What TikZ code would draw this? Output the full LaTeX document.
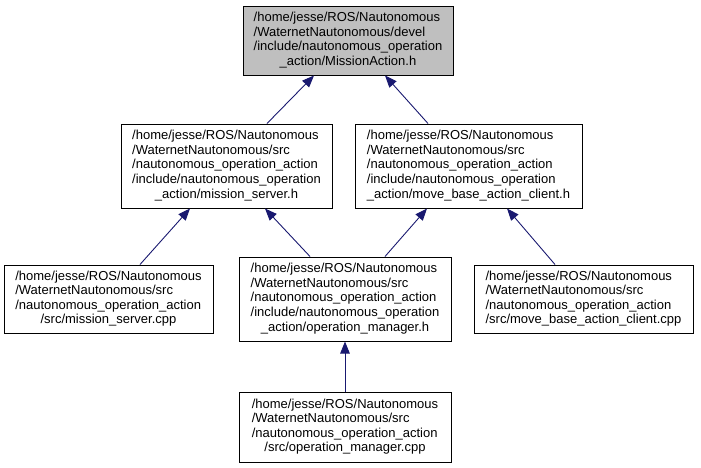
\documentclass[tikz,border=0pt]{standalone}
\usepackage{fontspec}
\setmainfont{Liberation Sans}
\usepackage{tikz}
\usetikzlibrary{arrows.meta,positioning}
\definecolor{edgeblue}{RGB}{25,25,112}
\definecolor{rootgrey}{RGB}{191,191,191}
\tikzstyle{file}=[draw=black, fill=white, shape=rectangle, line width=1pt,
        inner sep=0pt, font=\fontsize{13}{14.6}\selectfont]
\tikzstyle{root file}=[file, fill=rootgrey]
\tikzstyle{include edge}=[-{Triangle[length=12pt, width=9.5pt]}, draw=edgeblue,
        line width=0.9pt]
\newcommand{\lastline}[1]{\multicolumn{1}{@{}c@{}}{#1}}

\begin{document}
\begin{tikzpicture}[x=1pt, y=-1pt]
            \fill [white] (0, 0) rectangle (701, 467);
            \useasboundingbox (0, 0) rectangle (701, 467);

            \node [style=root file, minimum width=210pt, minimum height=69pt] (0) at (348, 40.5)
                {\begin{tabular}{@{}l@{}}/home/jesse/ROS/Nautonomous\\/WaternetNautonomous/devel\\/include/nautonomous\_operation\\\lastline{\_action/MissionAction.h}\end{tabular}};
            \node [style=file, minimum width=211pt, minimum height=84pt] (1) at (226.5, 166)
                {\begin{tabular}{@{}l@{}}/home/jesse/ROS/Nautonomous\\/WaternetNautonomous/src\\/nautonomous\_operation\_action\\/include/nautonomous\_operation\\\lastline{\_action/mission\_server.h}\end{tabular}};
            \node [style=file, minimum width=227pt, minimum height=84pt] (2) at (468.5, 166)
                {\begin{tabular}{@{}l@{}}/home/jesse/ROS/Nautonomous\\/WaternetNautonomous/src\\/nautonomous\_operation\_action\\/include/nautonomous\_operation\\\lastline{\_action/move\_base\_action\_client.h}\end{tabular}};
            \node [style=file, minimum width=209pt, minimum height=68pt] (3) at (108.5, 299)
                {\begin{tabular}{@{}l@{}}/home/jesse/ROS/Nautonomous\\/WaternetNautonomous/src\\/nautonomous\_operation\_action\\\lastline{/src/mission\_server.cpp}\end{tabular}};
            \node [style=file, minimum width=212pt, minimum height=84pt] (4) at (345, 299)
                {\begin{tabular}{@{}l@{}}/home/jesse/ROS/Nautonomous\\/WaternetNautonomous/src\\/nautonomous\_operation\_action\\/include/nautonomous\_operation\\\lastline{\_action/operation\_manager.h}\end{tabular}};
            \node [style=file, minimum width=219pt, minimum height=68pt] (5) at (583.5, 299)
                {\begin{tabular}{@{}l@{}}/home/jesse/ROS/Nautonomous\\/WaternetNautonomous/src\\/nautonomous\_operation\_action\\\lastline{/src/move\_base\_action\_client.cpp}\end{tabular}};
            \node [style=file, minimum width=212pt, minimum height=70pt] (6) at (345, 427)
                {\begin{tabular}{@{}l@{}}/home/jesse/ROS/Nautonomous\\/WaternetNautonomous/src\\/nautonomous\_operation\_action\\\lastline{/src/operation\_manager.cpp}\end{tabular}};

            \draw [style=include edge] ([xshift=40.5pt]1.north) to ([xshift=-34pt]0.south);
            \draw [style=include edge] ([xshift=-40.5pt]2.north) to ([xshift=37pt]0.south);
            \draw [style=include edge] ([xshift=31.5pt]3.north) to ([xshift=-36.5pt]1.south);
            \draw [style=include edge] ([xshift=-35pt]4.north) to ([xshift=38.5pt]1.south);
            \draw [style=include edge] ([xshift=40pt]4.north) to ([xshift=-41.5pt]2.south);
            \draw [style=include edge] ([xshift=-28.5pt]5.north) to ([xshift=38.5pt]2.south);
            \draw [style=include edge] (6) to (4);
    \end{tikzpicture}
\end{document}
